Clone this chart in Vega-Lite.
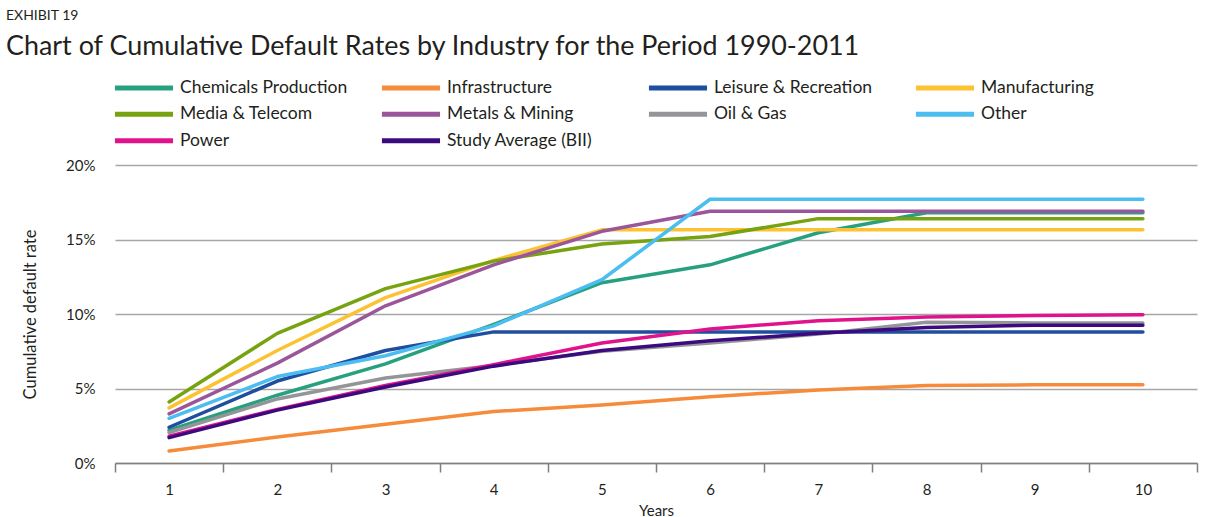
{
  "$schema": "https://vega.github.io/schema/vega-lite/v6.json",
  "width": 1082,
  "height": 298,
  "autosize": {"type": "none"},
  "padding": {"left": 115, "top": 165, "right": 11, "bottom": 54},
  "background": "white",
  "title": {
    "text": "EXHIBIT 19",
    "subtitle": "Chart of Cumulative Default Rates by Industry for the Period 1990-2011",
    "anchor": "start",
    "frame": "group",
    "orient": "top",
    "dx": -109,
    "dy": -15,
    "fontSize": 14,
    "font": "Lato",
    "fontWeight": "normal",
    "color": "#231f20",
    "subtitleFont": "Lato",
    "subtitleFontSize": 26.9,
    "subtitleFontWeight": "normal",
    "subtitleColor": "#231f20",
    "subtitlePadding": 11
  },
  "config": {
    "font": "Lato",
    "view": {"stroke": null}
  },
  "data": {
    "values": [
      {"Year": 1, "Industry": "Chemicals Production", "Rate": 0.022},
      {"Year": 2, "Industry": "Chemicals Production", "Rate": 0.0455},
      {"Year": 3, "Industry": "Chemicals Production", "Rate": 0.0665},
      {"Year": 4, "Industry": "Chemicals Production", "Rate": 0.093},
      {"Year": 5, "Industry": "Chemicals Production", "Rate": 0.121},
      {"Year": 6, "Industry": "Chemicals Production", "Rate": 0.133},
      {"Year": 7, "Industry": "Chemicals Production", "Rate": 0.1545},
      {"Year": 8, "Industry": "Chemicals Production", "Rate": 0.168},
      {"Year": 9, "Industry": "Chemicals Production", "Rate": 0.168},
      {"Year": 10, "Industry": "Chemicals Production", "Rate": 0.168},

      {"Year": 1, "Industry": "Infrastructure", "Rate": 0.008},
      {"Year": 2, "Industry": "Infrastructure", "Rate": 0.0175},
      {"Year": 3, "Industry": "Infrastructure", "Rate": 0.026},
      {"Year": 4, "Industry": "Infrastructure", "Rate": 0.0345},
      {"Year": 5, "Industry": "Infrastructure", "Rate": 0.039},
      {"Year": 6, "Industry": "Infrastructure", "Rate": 0.0445},
      {"Year": 7, "Industry": "Infrastructure", "Rate": 0.049},
      {"Year": 8, "Industry": "Infrastructure", "Rate": 0.052},
      {"Year": 9, "Industry": "Infrastructure", "Rate": 0.0525},
      {"Year": 10, "Industry": "Infrastructure", "Rate": 0.0525},

      {"Year": 1, "Industry": "Leisure & Recreation", "Rate": 0.024},
      {"Year": 2, "Industry": "Leisure & Recreation", "Rate": 0.055},
      {"Year": 3, "Industry": "Leisure & Recreation", "Rate": 0.0755},
      {"Year": 4, "Industry": "Leisure & Recreation", "Rate": 0.088},
      {"Year": 5, "Industry": "Leisure & Recreation", "Rate": 0.088},
      {"Year": 6, "Industry": "Leisure & Recreation", "Rate": 0.088},
      {"Year": 7, "Industry": "Leisure & Recreation", "Rate": 0.088},
      {"Year": 8, "Industry": "Leisure & Recreation", "Rate": 0.088},
      {"Year": 9, "Industry": "Leisure & Recreation", "Rate": 0.088},
      {"Year": 10, "Industry": "Leisure & Recreation", "Rate": 0.088},

      {"Year": 1, "Industry": "Manufacturing", "Rate": 0.037},
      {"Year": 2, "Industry": "Manufacturing", "Rate": 0.0755},
      {"Year": 3, "Industry": "Manufacturing", "Rate": 0.111},
      {"Year": 4, "Industry": "Manufacturing", "Rate": 0.136},
      {"Year": 5, "Industry": "Manufacturing", "Rate": 0.1565},
      {"Year": 6, "Industry": "Manufacturing", "Rate": 0.1565},
      {"Year": 7, "Industry": "Manufacturing", "Rate": 0.1565},
      {"Year": 8, "Industry": "Manufacturing", "Rate": 0.1565},
      {"Year": 9, "Industry": "Manufacturing", "Rate": 0.1565},
      {"Year": 10, "Industry": "Manufacturing", "Rate": 0.1565},

      {"Year": 1, "Industry": "Media & Telecom", "Rate": 0.041},
      {"Year": 2, "Industry": "Media & Telecom", "Rate": 0.087},
      {"Year": 3, "Industry": "Media & Telecom", "Rate": 0.117},
      {"Year": 4, "Industry": "Media & Telecom", "Rate": 0.1355},
      {"Year": 5, "Industry": "Media & Telecom", "Rate": 0.147},
      {"Year": 6, "Industry": "Media & Telecom", "Rate": 0.152},
      {"Year": 7, "Industry": "Media & Telecom", "Rate": 0.164},
      {"Year": 8, "Industry": "Media & Telecom", "Rate": 0.164},
      {"Year": 9, "Industry": "Media & Telecom", "Rate": 0.164},
      {"Year": 10, "Industry": "Media & Telecom", "Rate": 0.164},

      {"Year": 1, "Industry": "Metals & Mining", "Rate": 0.033},
      {"Year": 2, "Industry": "Metals & Mining", "Rate": 0.067},
      {"Year": 3, "Industry": "Metals & Mining", "Rate": 0.1055},
      {"Year": 4, "Industry": "Metals & Mining", "Rate": 0.133},
      {"Year": 5, "Industry": "Metals & Mining", "Rate": 0.1555},
      {"Year": 6, "Industry": "Metals & Mining", "Rate": 0.169},
      {"Year": 7, "Industry": "Metals & Mining", "Rate": 0.169},
      {"Year": 8, "Industry": "Metals & Mining", "Rate": 0.169},
      {"Year": 9, "Industry": "Metals & Mining", "Rate": 0.169},
      {"Year": 10, "Industry": "Metals & Mining", "Rate": 0.169},

      {"Year": 1, "Industry": "Oil & Gas", "Rate": 0.0205},
      {"Year": 2, "Industry": "Oil & Gas", "Rate": 0.043},
      {"Year": 3, "Industry": "Oil & Gas", "Rate": 0.057},
      {"Year": 4, "Industry": "Oil & Gas", "Rate": 0.0655},
      {"Year": 5, "Industry": "Oil & Gas", "Rate": 0.075},
      {"Year": 6, "Industry": "Oil & Gas", "Rate": 0.0805},
      {"Year": 7, "Industry": "Oil & Gas", "Rate": 0.0865},
      {"Year": 8, "Industry": "Oil & Gas", "Rate": 0.0945},
      {"Year": 9, "Industry": "Oil & Gas", "Rate": 0.094},
      {"Year": 10, "Industry": "Oil & Gas", "Rate": 0.094},

      {"Year": 1, "Industry": "Other", "Rate": 0.030},
      {"Year": 2, "Industry": "Other", "Rate": 0.058},
      {"Year": 3, "Industry": "Other", "Rate": 0.072},
      {"Year": 4, "Industry": "Other", "Rate": 0.092},
      {"Year": 5, "Industry": "Other", "Rate": 0.123},
      {"Year": 6, "Industry": "Other", "Rate": 0.177},
      {"Year": 7, "Industry": "Other", "Rate": 0.177},
      {"Year": 8, "Industry": "Other", "Rate": 0.177},
      {"Year": 9, "Industry": "Other", "Rate": 0.177},
      {"Year": 10, "Industry": "Other", "Rate": 0.177},

      {"Year": 1, "Industry": "Power", "Rate": 0.018},
      {"Year": 2, "Industry": "Power", "Rate": 0.036},
      {"Year": 3, "Industry": "Power", "Rate": 0.052},
      {"Year": 4, "Industry": "Power", "Rate": 0.066},
      {"Year": 5, "Industry": "Power", "Rate": 0.0805},
      {"Year": 6, "Industry": "Power", "Rate": 0.090},
      {"Year": 7, "Industry": "Power", "Rate": 0.0955},
      {"Year": 8, "Industry": "Power", "Rate": 0.098},
      {"Year": 9, "Industry": "Power", "Rate": 0.099},
      {"Year": 10, "Industry": "Power", "Rate": 0.0995},

      {"Year": 1, "Industry": "Study Average (BII)", "Rate": 0.017},
      {"Year": 2, "Industry": "Study Average (BII)", "Rate": 0.0355},
      {"Year": 3, "Industry": "Study Average (BII)", "Rate": 0.051},
      {"Year": 4, "Industry": "Study Average (BII)", "Rate": 0.065},
      {"Year": 5, "Industry": "Study Average (BII)", "Rate": 0.0755},
      {"Year": 6, "Industry": "Study Average (BII)", "Rate": 0.082},
      {"Year": 7, "Industry": "Study Average (BII)", "Rate": 0.087},
      {"Year": 8, "Industry": "Study Average (BII)", "Rate": 0.091},
      {"Year": 9, "Industry": "Study Average (BII)", "Rate": 0.0925},
      {"Year": 10, "Industry": "Study Average (BII)", "Rate": 0.0925}
    ]
  },
  "mark": {"type": "line", "strokeWidth": 3.5, "strokeCap": "round", "strokeJoin": "round"},
  "encoding": {
    "x": {
      "field": "Year",
      "type": "ordinal",
      "scale": {"type": "band", "paddingInner": 0, "paddingOuter": 0},
      "axis": {
        "title": "Years",
        "titleFont": "Lato",
        "titleFontSize": 15,
        "titleFontWeight": "normal",
        "titleColor": "#231f20",
        "titlePadding": 6,
        "labelAngle": 0,
        "labelFont": "Lato",
        "labelFontSize": 15,
        "labelColor": "#231f20",
        "labelPadding": 10,
        "tickBand": "extent",
        "tickSize": 9,
        "tickColor": "#7f7f7f",
        "tickWidth": 1.5,
        "domainColor": "#7f7f7f",
        "domainWidth": 1.5,
        "grid": false
      }
    },
    "y": {
      "field": "Rate",
      "type": "quantitative",
      "scale": {"domain": [0, 0.2], "nice": false},
      "axis": {
        "values": [0, 0.05, 0.1, 0.15, 0.2],
        "format": ".0%",
        "title": "Cumulative default rate",
        "titleFont": "Lato",
        "titleFontSize": 16.5,
        "titleFontWeight": "normal",
        "titleColor": "#231f20",
        "titlePadding": 27,
        "labelFont": "Lato",
        "labelFontSize": 15,
        "labelColor": "#231f20",
        "labelPadding": 20,
        "domain": false,
        "ticks": false,
        "grid": true,
        "gridColor": "#a6a6a6",
        "gridWidth": 1.5
      }
    },
    "color": {
      "field": "Industry",
      "type": "nominal",
      "scale": {
        "domain": ["Chemicals Production", "Infrastructure", "Leisure & Recreation", "Manufacturing", "Media & Telecom", "Metals & Mining", "Oil & Gas", "Other", "Power", "Study Average (BII)"],
        "range": ["#27a07f", "#f68b3c", "#1f4e9e", "#fdc232", "#76a30f", "#9b569b", "#939598", "#4bbdf0", "#e0138c", "#3b0a7f"]
      },
      "legend": {
        "title": null,
        "orient": "none",
        "legendX": -3,
        "legendY": -86,
        "direction": "horizontal",
        "columns": 4,
        "gridAlign": "all",
        "columnPadding": 23,
        "rowPadding": 5.5,
        "symbolType": "M-1,0H9",
        "symbolSize": 135,
        "symbolStrokeWidth": 5,
        "symbolOffset": 0,
        "labelOffset": 50.5,
        "labelFont": "Lato",
        "labelFontSize": 17.5,
        "labelColor": "#231f20",
        "labelLimit": 300
      }
    }
  }
}
